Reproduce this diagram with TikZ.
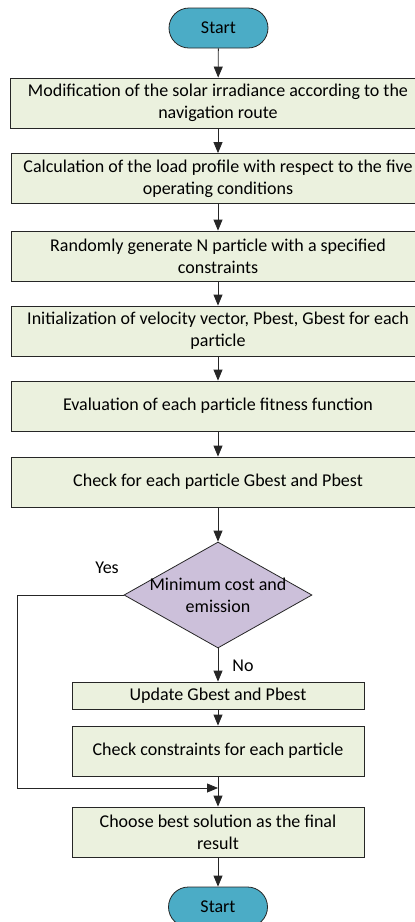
\documentclass[tikz,border=0pt]{standalone}
\usepackage{fontspec}
\setmainfont{Carlito}
\usetikzlibrary{arrows.meta,shapes.geometric}
\definecolor{termblue}{HTML}{4BACC6}
\definecolor{boxgreen}{HTML}{EBF1DE}
\definecolor{declilac}{HTML}{CCC0DA}

\begin{document}
\begin{tikzpicture}[
    x=1pt, y=-1pt,
    every node/.style={font=\fontsize{18}{22}\selectfont},
    box/.style={draw=black!85, fill=boxgreen, line width=0.8pt, align=center, minimum height=50, inner sep=2pt},
    term/.style={draw=black!85, fill=termblue, line width=0.8pt, rounded corners=20, minimum width=99, minimum height=40},
    dec/.style={draw=black!85, fill=declilac, line width=0.8pt, diamond, minimum width=188, minimum height=106, inner sep=0pt},
    arr/.style={-{Triangle[length=11pt,width=9pt]}, line width=0.8pt, black!85}
]
\useasboundingbox (0,0) rectangle (415,922);

\node[term] (start) at (218.5,28) {Start};
\node[box, minimum width=416] (mod) at (218,103) {Modification of the solar irradiance according to the\\navigation route};
\node[box, minimum width=414] (load) at (218,178.5) {Calculation of the load profile with respect to the five\\operating conditions};
\node[box, minimum width=414] (gen) at (218,256) {Randomly generate N particle with a specified\\constraints};
\node[box, minimum width=414] (init) at (218,331) {Initialization of velocity vector, Pbest, Gbest for each\\particle};
\node[box, minimum width=414] (eval) at (218,406) {Evaluation of each particle fitness function};
\node[box, minimum width=414] (check) at (218,482) {Check for each particle Gbest and Pbest};
\node[dec] (dec) at (218,595) {};
\node[align=center] (dectxt) at (dec) {Minimum cost and\\emission};
\node[box, minimum width=292, minimum height=27] (upd) at (218,695.5) {Update Gbest and Pbest};
\node[box, minimum width=292] (cons) at (218,751) {Check constraints for each particle};
\node[box, minimum width=292] (best) at (218,832) {Choose best solution as the final\\result};
\node[term] (stop) at (218,907) {Start};

\node (yes) at (107,568) {Yes};
\node (no) at (243,666) {No};

\coordinate (loop) at (17,595);
\coordinate (join) at (218,788);

\draw[arr] (start) -- (mod);
\draw[arr] (mod) -- (load);
\draw[arr] (load) -- (gen);
\draw[arr] (gen) -- (init);
\draw[arr] (init) -- (eval);
\draw[arr] (eval) -- (check);
\draw[arr] (check) -- (dec);
\draw[arr] (dec) -- (upd);
\draw[arr] (upd) -- (cons);
\draw[arr] (cons) -- (best);
\draw[arr] (best) -- (stop);
\draw[arr] (dec.west) -- (loop) |- (join);
\end{tikzpicture}
\end{document}
